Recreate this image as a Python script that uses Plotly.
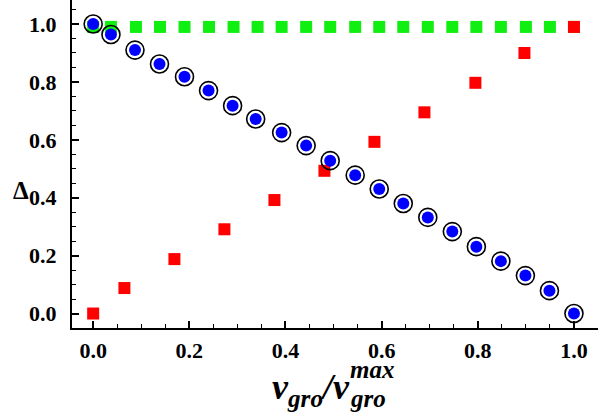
import plotly.graph_objects as go

# ---- data ----
blue_x = [0.0, 0.037, 0.087, 0.138, 0.19, 0.24, 0.29, 0.338, 0.392, 0.443, 0.493,
          0.545, 0.595, 0.645, 0.696, 0.747, 0.797, 0.848, 0.899, 0.949, 1.0]
blue_y = [1.0, 0.964, 0.91, 0.862, 0.818, 0.77, 0.718, 0.672, 0.625, 0.58, 0.528,
          0.478, 0.43, 0.38, 0.332, 0.283, 0.231, 0.181, 0.131, 0.079, 0.0]

green_x = [0.0, 0.037, 0.089, 0.139, 0.19, 0.241, 0.292, 0.342, 0.392, 0.443, 0.493,
           0.545, 0.595, 0.645, 0.696, 0.747, 0.797, 0.848, 0.9, 0.95, 1.0]
green_y = [0.99] * 21

red_x = [0.0, 0.065, 0.169, 0.273, 0.377, 0.481, 0.585, 0.689, 0.795, 0.897, 1.0]
red_y = [0.0, 0.088, 0.188, 0.291, 0.392, 0.493, 0.593, 0.695, 0.797, 0.9, 0.99]

tick_vals = [0.0, 0.2, 0.4, 0.6, 0.8, 1.0]
tick_text = ["0.0", "0.2", "0.4", "0.6", "0.8", "1.0"]

SERIF = "Liberation Serif, Times New Roman, serif"

fig = go.Figure()
fig.add_trace(go.Scatter(x=green_x, y=green_y, mode="markers",
                         marker=dict(symbol="square", size=12, color="#11ee11"),
                         cliponaxis=False))
fig.add_trace(go.Scatter(x=red_x, y=red_y, mode="markers",
                         marker=dict(symbol="square", size=12, color="#ff0000"),
                         cliponaxis=False))
fig.add_trace(go.Scatter(x=blue_x, y=blue_y, mode="markers",
                         marker=dict(symbol="circle-open", size=18, color="black",
                                     line=dict(width=1.6)),
                         cliponaxis=False))
fig.add_trace(go.Scatter(x=blue_x, y=blue_y, mode="markers",
                         marker=dict(symbol="circle", size=12, color="#0000ff"),
                         cliponaxis=False))

axis_common = dict(
    showgrid=False, zeroline=False, showline=True, linecolor="black", linewidth=2,
    ticks="inside", ticklen=7, tickwidth=1.6, tickcolor="black",
    tickvals=tick_vals, ticktext=tick_text,
    tickfont=dict(family=SERIF, size=22, color="black", weight="bold"),
    minor=dict(ticks="inside", dtick=0.05, ticklen=4, tickwidth=1.4, tickcolor="black", showgrid=False),
)

fig.update_layout(
    width=600, height=418,
    margin=dict(l=72, r=2, t=0, b=90),
    plot_bgcolor="white", paper_bgcolor="white",
    showlegend=False,
    xaxis=dict(range=[-0.044, 1.05], ticklabelstandoff=2, **axis_common),
    yaxis=dict(range=[-0.05, 1.083], ticklabelstandoff=9, **axis_common),
)

# plot area: x pixels 72..598, y pixels 0..328
def px(xp):
    return (xp - 72) / 526.0

def py(yp):
    return (328 - yp) / 328.0

title_font = dict(family=SERIF, size=36, color="black", weight="bold", style="italic")
small_font = dict(family=SERIF, size=25, color="black", weight="bold", style="italic")

fig.add_annotation(text="Δ", xref="paper", yref="paper", x=px(21), y=py(190),
                   xanchor="center", yanchor="middle", showarrow=False,
                   font=dict(family=SERIF, size=25, color="black", weight="bold"))
fig.add_annotation(text="v<sub>gro</sub>/v", xref="paper", yref="paper",
                   x=px(352), y=py(389), xanchor="right", yanchor="middle",
                   showarrow=False, font=title_font)
fig.add_annotation(text="max", xref="paper", yref="paper",
                   x=px(348), y=py(369), xanchor="left", yanchor="middle",
                   showarrow=False, font=small_font)
fig.add_annotation(text="gro", xref="paper", yref="paper",
                   x=px(348), y=py(398), xanchor="left", yanchor="middle",
                   showarrow=False, font=small_font)

fig.write_html("out.html", config={"displayModeBar": False},
               post_script="document.body.style.margin='0';document.body.style.overflow='hidden';")
